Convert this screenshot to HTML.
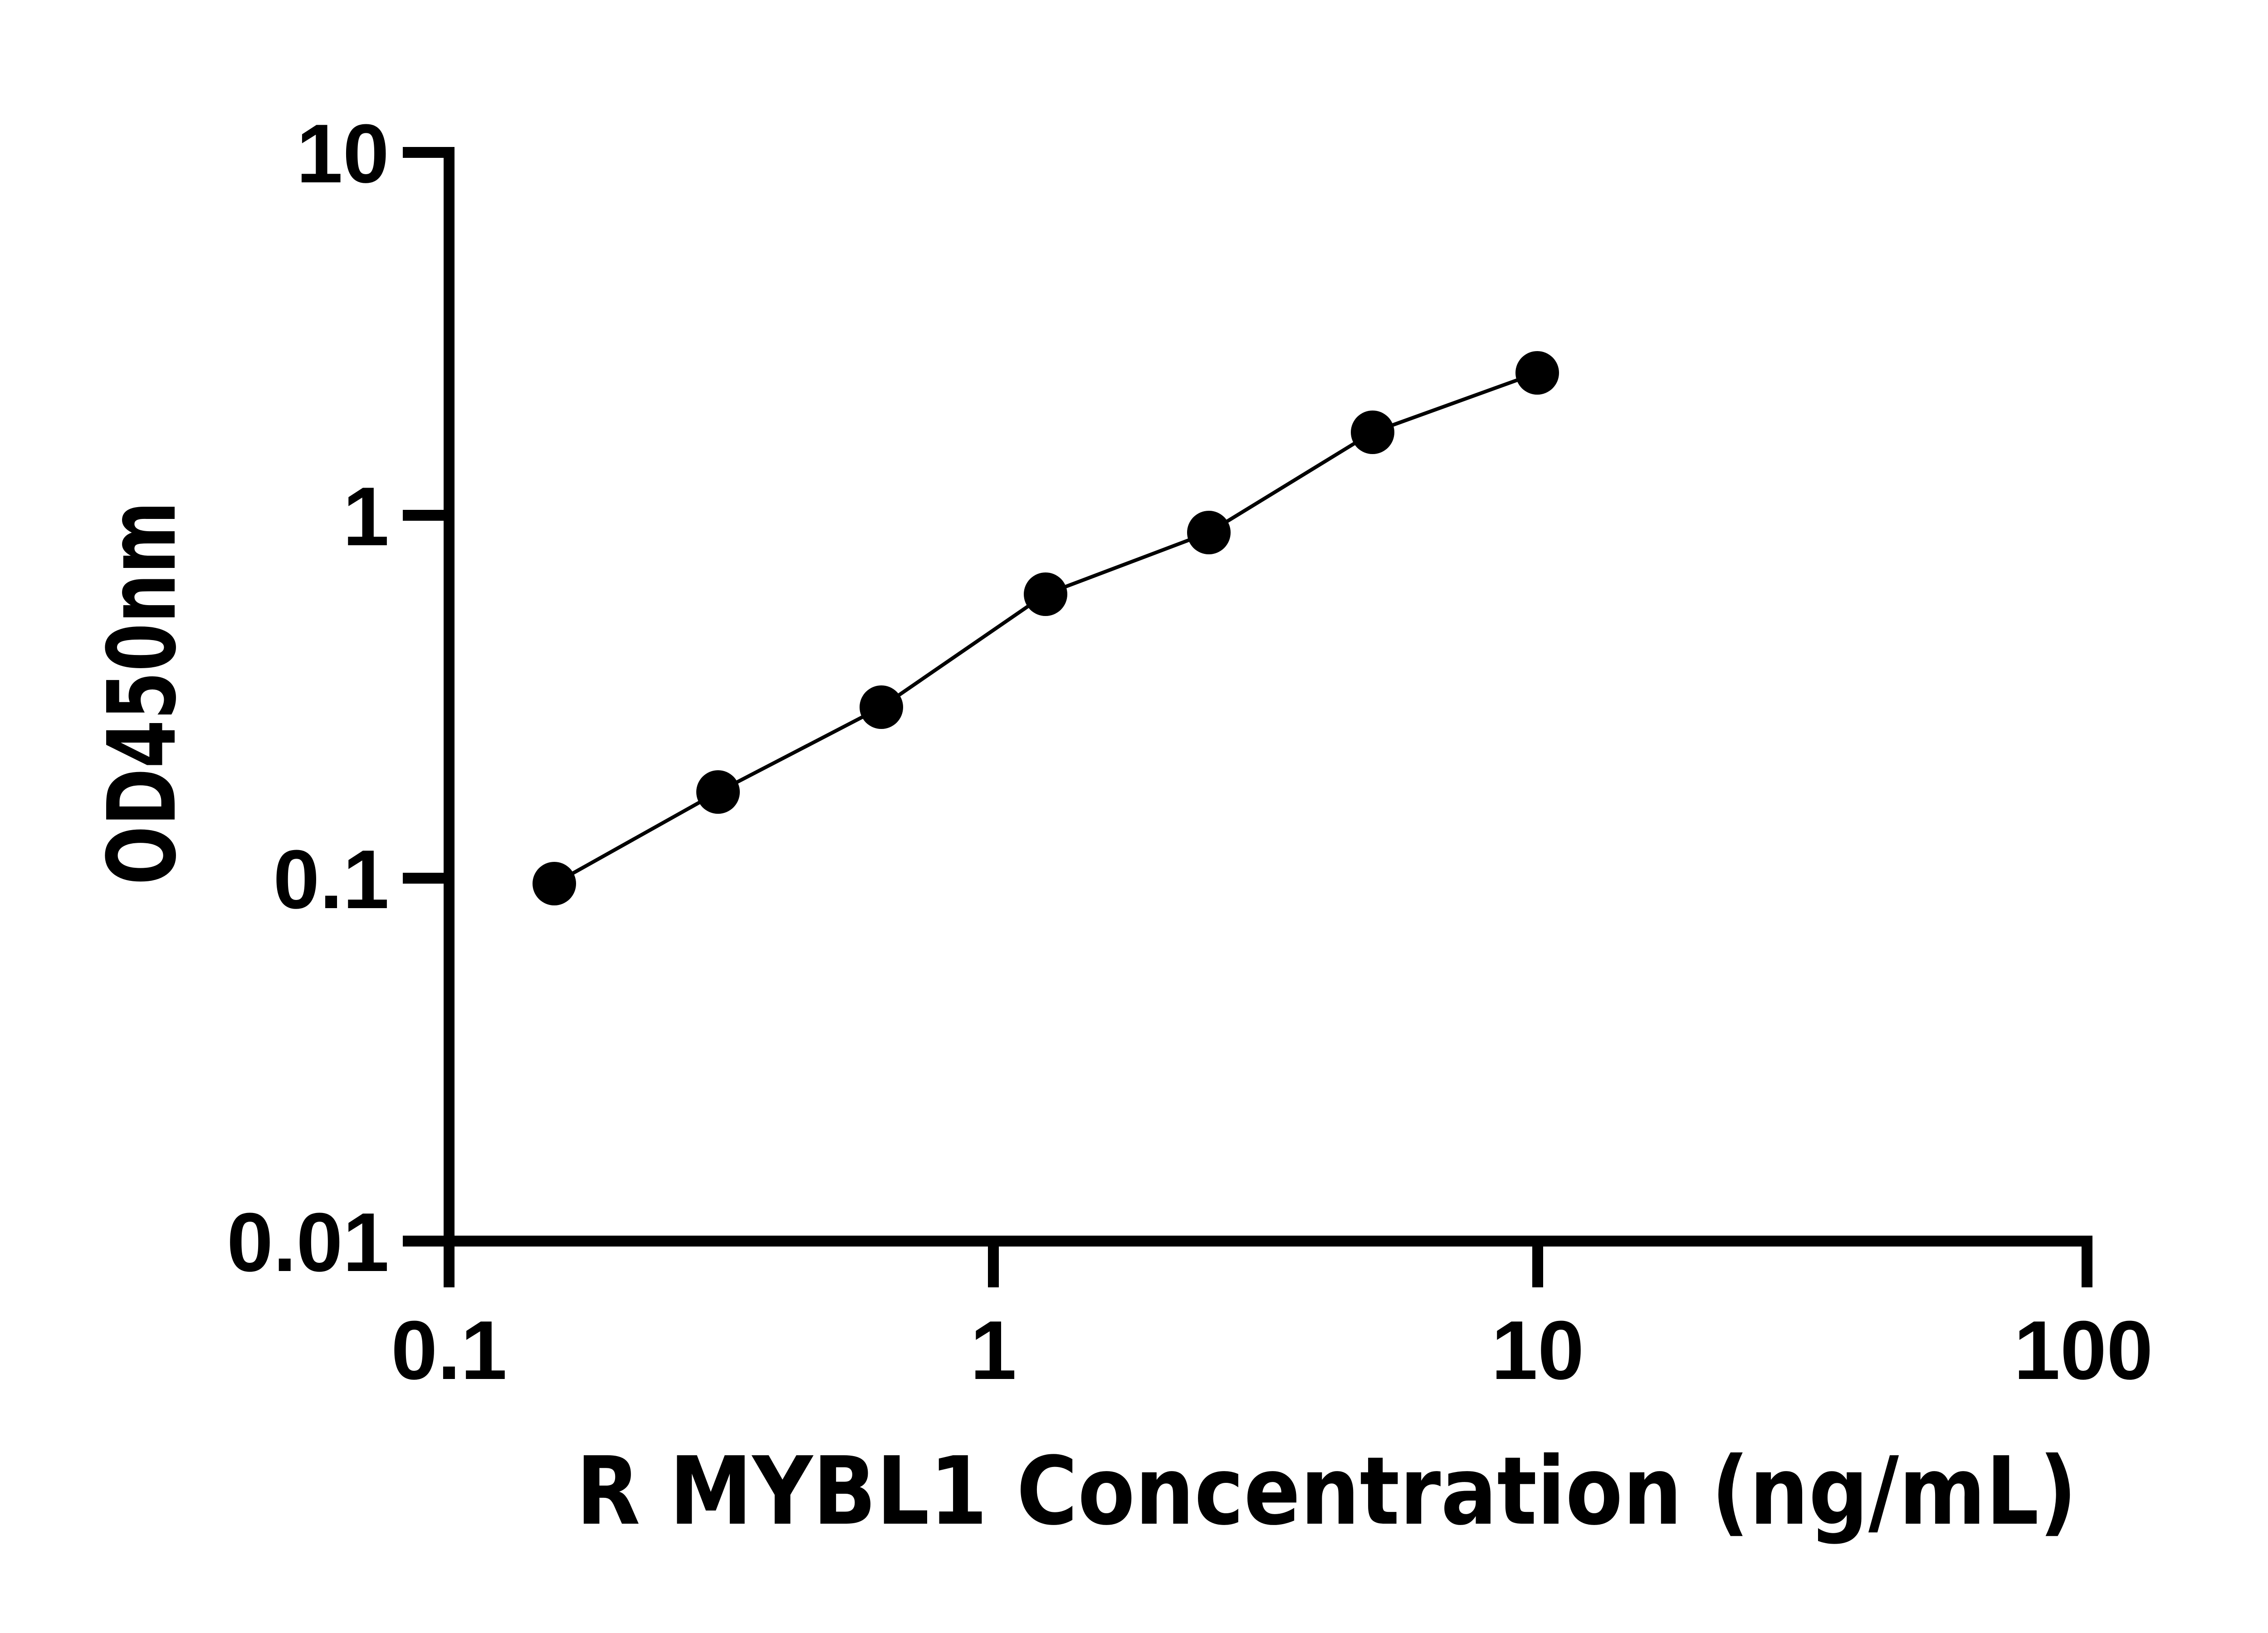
<!DOCTYPE html>
<html><head><style>html,body{margin:0;padding:0;background:#fff;}svg{display:block;}</style></head>
<body>
<svg width="5142" height="3600" viewBox="0 0 5142 3600" xmlns="http://www.w3.org/2000/svg">
<rect width="5142" height="3600" fill="#fff"/>
<g stroke="#000" stroke-width="24" fill="none" stroke-linecap="butt">
<path d="M888 336 H990 V2748"/>
<path d="M888 1136 H990 M888 1936 H990 M888 2736 H4601 V2838"/>
<path d="M990 2724 V2838 M2190 2736 V2838 M3390 2736 V2838"/>
</g>
<g font-family="Liberation Sans, Arial, sans-serif" font-weight="bold" font-size="184" fill="#000">
<g text-anchor="end">
<text x="858" y="402">10</text>
<text x="858" y="1202">1</text>
<text x="858" y="2002">0.1</text>
<text x="858" y="2802">0.01</text>
</g>
<g text-anchor="middle">
<text x="990" y="3040">0.1</text>
<text x="2190" y="3040">1</text>
<text x="3390" y="3040">10</text>
<text x="4593" y="3040">100</text>
</g>
</g>
<polyline points="1222,1948 1583,1746 1943,1559 2305,1310 2665,1174 3026,953 3389,822" fill="none" stroke="#000" stroke-width="8" stroke-linejoin="round"/>
<g fill="#000">
<circle cx="1222" cy="1948" r="48"/>
<circle cx="1583" cy="1746" r="48"/>
<circle cx="1943" cy="1559" r="48"/>
<circle cx="2305" cy="1310" r="48"/>
<circle cx="2665" cy="1174" r="48"/>
<circle cx="3026" cy="953" r="48"/>
<circle cx="3389" cy="822" r="48"/>
</g>
<text x="1270" y="3359" font-family="DejaVu Sans, Liberation Sans, sans-serif" font-weight="bold" font-size="207" textLength="3309" lengthAdjust="spacingAndGlyphs">R MYBL1 Concentration (ng/mL)</text>
<text transform="translate(385,1951) rotate(-90)" x="0" y="0" font-family="DejaVu Sans, Liberation Sans, sans-serif" font-weight="bold" font-size="207" textLength="846" lengthAdjust="spacingAndGlyphs">OD450nm</text>
</svg>
</body></html>
